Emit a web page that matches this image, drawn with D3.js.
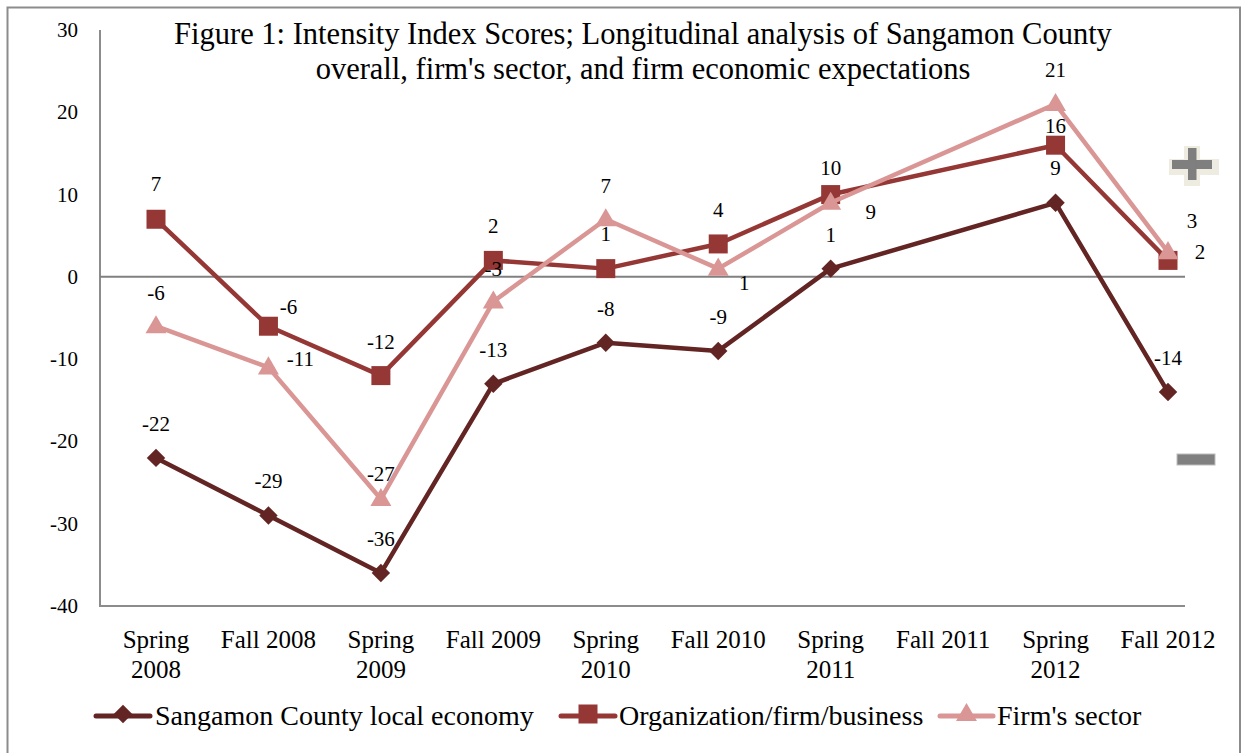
<!DOCTYPE html>
<html>
<head>
<meta charset="utf-8">
<script src="https://cdn.jsdelivr.net/npm/d3@7"></script>
<style>
  html, body { margin: 0; padding: 0; background: #fff; }
  svg { display: block; }
  svg text { font-family: "Liberation Serif", "DejaVu Serif", serif; fill: #000; }
</style>
</head>
<body>
<svg id="chart" width="1246" height="753" font-family="Liberation Serif, serif"></svg>
<script>
// ---- data ----
const categories = ["Spring 2008", "Fall 2008", "Spring 2009", "Fall 2009", "Spring 2010",
                    "Fall 2010", "Spring 2011", "Fall 2011", "Spring 2012", "Fall 2012"];
const categoryLines = [["Spring", "2008"], ["Fall 2008"], ["Spring", "2009"], ["Fall 2009"], ["Spring", "2010"],
                       ["Fall 2010"], ["Spring", "2011"], ["Fall 2011"], ["Spring", "2012"], ["Fall 2012"]];
const localEconomy = [-22, -29, -36, -13, -8, -9, 1, null, 9, -14];
const organization = [7, -6, -12, 2, 1, 4, 10, null, 16, 2];
const firmSector   = [-6, -11, -27, -3, 7, 1, 9, null, 21, 3];
const seriesNames  = ["Sangamon County local economy", "Organization/firm/business", "Firm's sector"];
const yTicks = [-40, -30, -20, -10, 0, 10, 20, 30];
const titleLines = ["Figure 1: Intensity Index Scores; Longitudinal analysis of Sangamon County",
                    "overall, firm's sector, and firm economic expectations"];

// label offsets (style) [dx, dy] for each point
const offLocal = [[0,-34],[0,-34],[0,-34],[0,-34],[0,-34],[0,-34],[0,-34],null,[0,-35],[0,-34]];
const offOrg   = [[0,-35],[20,-19],[0,-34],[0,-34],[0,-35],[0,-34],[0,-27],null,[0,-19],[32,-8]];
const offFirm  = [[0,-33],[32,-8],[0,-25],[0,-33],[0,-33],[26,14],[40,9],null,[0,-34],[24,-31]];

const colors = ["#632523", "#953735", "#D99694"];

(function () {
// ---- layout ----
const svg = d3.select("#chart");
const pLeft = 100, pRight = 1185, pTop = 30, pBottom = 606;
const FONT = "Liberation Serif, serif";

const x = d3.scalePoint().domain(categories).range([156, 1168]);
const y = d3.scaleLinear().domain([-40, 30]).range([pBottom, pTop]);

// outer frame
svg.append("path").attr("d", "M7.5,760 V7.5 H1240 V760")
  .attr("fill", "none").attr("stroke", "#8c8c8c").attr("stroke-width", 2);

// axes lines
svg.append("line").attr("x1", pLeft).attr("x2", pLeft).attr("y1", y(30)).attr("y2", y(-40))
  .attr("stroke", "#8c8c8c").attr("stroke-width", 2);
svg.append("line").attr("x1", pLeft - 1).attr("x2", pRight).attr("y1", y(-40)).attr("y2", y(-40))
  .attr("stroke", "#8c8c8c").attr("stroke-width", 2);
svg.append("line").attr("x1", pLeft).attr("x2", pRight).attr("y1", y(0)).attr("y2", y(0))
  .attr("stroke", "#808080").attr("stroke-width", 2);

// y tick labels
svg.append("g").selectAll("text").data(yTicks).join("text")
  .attr("font-family", FONT)
  .attr("x", 78).attr("y", d => y(d) + 7)
  .attr("text-anchor", "end").attr("font-size", 21).text(d => d);

// x category labels
const xl = svg.append("g").selectAll("text").data(categories).join("text")
  .attr("font-family", FONT)
  .attr("x", d => x(d)).attr("y", 648).attr("text-anchor", "middle").attr("font-size", 25);
xl.each(function(d, i) {
  const t = d3.select(this);
  categoryLines[i].forEach((s, j) => {
    t.append("tspan").attr("x", x(d)).attr("dy", j === 0 ? 0 : 30).text(s);
  });
});

// title
svg.append("g").selectAll("text").data(titleLines).join("text")
  .attr("font-family", FONT)
  .attr("x", 643).attr("y", (d, i) => 44 + i * 35)
  .attr("text-anchor", "middle").attr("font-size", 30.5).text(d => d);

// series
const series = [
  { name: seriesNames[0], values: localEconomy, offs: offLocal, color: colors[0], shape: "diamond" },
  { name: seriesNames[1], values: organization, offs: offOrg, color: colors[1], shape: "square" },
  { name: seriesNames[2], values: firmSector, offs: offFirm, color: colors[2], shape: "triangle" }
];

function markerPath(shape) {
  if (shape === "diamond") return d3.symbol(d3.symbolSquare, 170)();
  if (shape === "square") return d3.symbol(d3.symbolSquare, 361)();
  return d3.symbol(d3.symbolTriangle, 190)();
}
function markerTransform(shape, px, py) {
  if (shape === "diamond") return `translate(${px},${py}) rotate(45)`;
  if (shape === "triangle") return `translate(${px},${py + 1})`;
  return `translate(${px},${py})`;
}

const line = d3.line().x(d => x(d.cat)).y(d => y(d.v));

series.forEach(s => {
  const pts = s.values.map((v, i) => ({ cat: categories[i], v, off: s.offs[i] })).filter(d => d.v !== null);
  const g = svg.append("g");
  g.append("path").datum(pts).attr("d", line)
    .attr("fill", "none").attr("stroke", s.color).attr("stroke-width", 4.5).attr("stroke-linejoin", "round");
  g.selectAll("path.m").data(pts).join("path").attr("class", "m")
    .attr("d", markerPath(s.shape))
    .attr("transform", d => markerTransform(s.shape, x(d.cat), y(d.v)))
    .attr("fill", s.color);
  s.pts = pts;
});

// data labels (drawn above all marks)
const lg = svg.append("g");
series.forEach(s => {
  lg.selectAll(null).data(s.pts).join("text")
    .attr("font-family", FONT)
    .attr("x", d => x(d.cat) + d.off[0]).attr("y", d => y(d.v) + d.off[1] + 7)
    .attr("text-anchor", "middle").attr("font-size", 21).text(d => d.v);
});

// plus / minus symbols
const plus = svg.append("g");
plus.append("path").attr("d", "M1184,146 h16 v13 h19 v16 h-19 v11 h-16 v-11 h-15 v-16 h15 z")
  .attr("fill", "#EEECE1");
plus.append("rect").attr("x", 1172).attr("y", 160).attr("width", 40).attr("height", 9).attr("fill", "#7f7f7f");
plus.append("rect").attr("x", 1188).attr("y", 148).attr("width", 8.5).attr("height", 32).attr("fill", "#7f7f7f");
svg.append("rect").attr("x", 1177).attr("y", 454).attr("width", 38).attr("height", 11)
  .attr("fill", "#808080").attr("stroke", "#bdbdbd").attr("stroke-width", 1);

// legend
const legendPos = [{ x0: 96, x1: 150, tx: 155 }, { x0: 561, x1: 615, tx: 619 }, { x0: 940, x1: 993, tx: 997 }];
const ly = 716;
series.forEach((s, i) => {
  const p = legendPos[i];
  const g = svg.append("g");
  g.append("line").attr("x1", p.x0).attr("x2", p.x1).attr("y1", ly).attr("y2", ly)
    .attr("stroke", s.color).attr("stroke-width", 5).attr("stroke-linecap", "round");
  g.append("path").attr("d", markerPath(s.shape))
    .attr("transform", markerTransform(s.shape, (p.x0 + p.x1) / 2, ly - 2)).attr("fill", s.color);
  g.append("text").attr("font-family", FONT)
    .attr("x", p.tx).attr("y", ly + 9).attr("font-size", 28).text(s.name);
});
})();
</script>
</body>
</html>
